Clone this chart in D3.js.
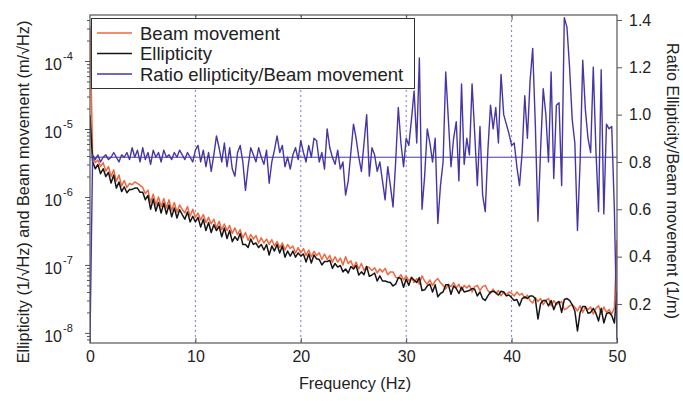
<!DOCTYPE html>
<html>
<head>
<meta charset="utf-8">
<script src="https://cdn.jsdelivr.net/npm/d3@7"></script>
<style>
body { margin: 0; background: #fff; }
text { font-family: "Liberation Sans", Arial, Helvetica, sans-serif; fill: #222; }
</style>
</head>
<body>
<svg id="chart" width="683" height="401"></svg>
<script>
// spectra sampled every 0.25 Hz from 0 to 50 Hz
var freqStep = 0.25;

var beam = [3.2e-4,4.0e-6,3.2e-6,3.5e-6,2.8e-6,3.2e-6,2.4e-6,2.8e-6,2.0e-6,2.5e-6,
1.7e-6,2.1e-6,1.45e-6,1.74e-6,1.38e-6,1.58e-6,1.51e-6,1.66e-6,1.58e-6,1.48e-6,
1.38e-6,1.12e-6,1.26e-6,8.3e-7,1.1e-6,7.6e-7,1.0e-6,7.2e-7,9.5e-7,6.9e-7,
9.1e-7,6.3e-7,8.3e-7,6.0e-7,7.6e-7,6.6e-7,5.8e-7,7.2e-7,5.2e-7,6.6e-7,
5.0e-7,5.8e-7,4.6e-7,5.5e-7,4.2e-7,5.0e-7,4.0e-7,4.7e-7,3.5e-7,4.4e-7,
3.3e-7,4.0e-7,3.2e-7,3.8e-7,2.9e-7,3.5e-7,2.8e-7,3.3e-7,2.5e-7,3.0e-7,
2.3e-7,2.8e-7,2.4e-7,2.7e-7,2.1e-7,2.5e-7,2.1e-7,2.4e-7,2.0e-7,2.35e-7,
1.9e-7,2.2e-7,1.8e-7,2.1e-7,1.66e-7,2.0e-7,1.74e-7,1.9e-7,1.5e-7,1.8e-7,
1.5e-7,1.74e-7,1.38e-7,1.66e-7,1.32e-7,1.58e-7,1.38e-7,1.51e-7,1.2e-7,1.45e-7,
1.2e-7,1.38e-7,1.1e-7,1.32e-7,1.1e-7,1.26e-7,1.0e-7,1.32e-7,1.05e-7,1.15e-7,
9.1e-8,1.1e-7,8.7e-8,1.05e-7,8.3e-8,9.5e-8,9.1e-8,8.3e-8,9.1e-8,7.6e-8,
8.7e-8,7.9e-8,8.9e-8,7.2e-8,7.9e-8,7.9e-8,6.6e-8,6.3e-8,7.2e-8,6.0e-8,
6.9e-8,5.8e-8,6.6e-8,5.5e-8,6.3e-8,5.2e-8,6.9e-8,5.8e-8,5.2e-8,6.0e-8,
5.0e-8,5.8e-8,6.3e-8,5.5e-8,5.0e-8,4.4e-8,5.2e-8,4.8e-8,5.5e-8,4.6e-8,
5.2e-8,4.2e-8,5.0e-8,4.6e-8,5.0e-8,4.0e-8,4.8e-8,5.0e-8,4.2e-8,4.8e-8,
5.0e-8,4.2e-8,3.8e-8,4.4e-8,3.8e-8,4.2e-8,3.5e-8,4.0e-8,3.6e-8,4.0e-8,
3.8e-8,3.5e-8,4.0e-8,3.6e-8,3.8e-8,3.2e-8,3.6e-8,3.0e-8,2.75e-8,3.3e-8,
2.9e-8,3.2e-8,2.6e-8,3.0e-8,3.2e-8,2.5e-8,3.0e-8,2.6e-8,2.75e-8,2.9e-8,
2.2e-8,2.3e-8,2.5e-8,2.6e-8,2.4e-8,2.1e-8,2.5e-8,2.0e-8,2.4e-8,2.2e-8,
2.4e-8,1.9e-8,2.3e-8,2.5e-8,1.9e-8,2.4e-8,2.0e-8,2.2e-8,1.9e-8,2.3e-8,
2.35e-7];

var ellipticity = [1.6e-5,3.3e-6,2.6e-6,3.0e-6,2.2e-6,2.6e-6,2.0e-6,2.3e-6,1.6e-6,2.1e-6,
1.35e-6,1.66e-6,1.2e-6,1.41e-6,1.15e-6,1.29e-6,1.29e-6,1.35e-6,1.35e-6,1.17e-6,
1.17e-6,9.1e-7,1.05e-6,6.6e-7,9.3e-7,6.2e-7,8.3e-7,5.8e-7,8.1e-7,5.6e-7,
7.6e-7,5.1e-7,6.9e-7,4.9e-7,6.5e-7,5.5e-7,4.7e-7,6.0e-7,4.3e-7,5.2e-7,
4.3e-7,5.0e-7,3.6e-7,4.7e-7,3.2e-7,4.2e-7,3.0e-7,3.9e-7,3.2e-7,3.7e-7,
2.6e-7,3.5e-7,2.45e-7,3.2e-7,2.2e-7,2.6e-7,2.3e-7,2.9e-7,2.0e-7,2.0e-7,
1.8e-7,2.4e-7,2.0e-7,2.1e-7,1.8e-7,2.0e-7,1.66e-7,2.0e-7,1.4e-7,1.9e-7,
1.6e-7,2.0e-7,1.5e-7,1.9e-7,1.3e-7,1.6e-7,1.35e-7,1.6e-7,1.3e-7,1.5e-7,
1.35e-7,1.45e-7,1.1e-7,1.45e-7,1.07e-7,1.4e-7,1.23e-7,1.2e-7,1.0e-7,1.12e-7,
1.12e-7,1.17e-7,8.9e-8,1.05e-7,9.3e-8,9.8e-8,7.9e-8,8.7e-8,7.6e-8,9.5e-8,
8.7e-8,9.8e-8,7.1e-8,7.9e-8,7.2e-8,9.5e-8,6.8e-8,7.1e-8,7.6e-8,5.8e-8,
6.9e-8,5.8e-8,5.8e-8,5.6e-8,5.5e-8,4.9e-8,5.2e-8,6.5e-8,6.3e-8,4.7e-8,
6.2e-8,5.0e-8,6.5e-8,6.0e-8,5.5e-8,6.5e-8,4.2e-8,4.3e-8,4.9e-8,5.2e-8,
4.0e-8,5.1e-8,3.4e-8,3.8e-8,4.0e-8,5.1e-8,5.1e-8,3.7e-8,4.9e-8,4.5e-8,
3.8e-8,4.7e-8,4.0e-8,4.1e-8,4.2e-8,4.5e-8,4.4e-8,3.5e-8,4.0e-8,3.2e-8,
3.0e-8,3.5e-8,4.0e-8,4.1e-8,3.9e-8,3.6e-8,4.1e-8,4.0e-8,3.5e-8,3.6e-8,
3.3e-8,3.0e-8,3.1e-8,2.5e-8,3.2e-8,3.4e-8,3.2e-8,3.5e-8,3.5e-8,3.2e-8,
1.6e-8,2.7e-8,3.0e-8,3.0e-8,2.5e-8,3.0e-8,2.2e-8,2.75e-8,2.9e-8,2.0e-8,
3.1e-8,3.2e-8,3.0e-8,2.6e-8,2.1e-8,1.07e-8,2.0e-8,2.45e-8,2.45e-8,1.95e-8,
2.0e-8,2.3e-8,1.95e-8,1.5e-8,2.3e-8,1.4e-8,1.9e-8,2.0e-8,1.8e-8,1.4e-8,
4.0e-8];

var ratio = [0.05,0.83,0.81,0.83,0.80,0.82,0.83,0.81,0.82,0.84,
0.82,0.80,0.83,0.82,0.84,0.81,0.86,0.82,0.85,0.80,
0.86,0.81,0.84,0.79,0.85,0.82,0.84,0.80,0.85,0.82,
0.83,0.81,0.84,0.82,0.85,0.83,0.81,0.84,0.82,0.80,
0.85,0.87,0.80,0.85,0.78,0.84,0.76,0.83,0.91,0.86,
0.80,0.88,0.78,0.86,0.77,0.74,0.84,0.87,0.80,0.68,
0.78,0.86,0.83,0.80,0.86,0.82,0.79,0.85,0.71,0.80,
0.85,0.91,0.84,0.87,0.78,0.82,0.77,0.83,0.86,0.81,
0.89,0.84,0.80,0.87,0.82,0.90,0.89,0.80,0.84,0.77,
0.94,0.86,0.82,0.79,0.85,0.77,0.80,0.66,0.72,0.84,
0.96,0.90,0.82,0.76,0.88,1.00,0.74,0.86,0.83,0.76,
0.80,0.72,0.64,0.78,0.70,0.61,0.80,1.03,0.88,0.78,
0.90,0.87,0.98,1.10,0.88,1.24,0.60,0.74,0.94,0.88,
0.80,0.90,0.54,0.70,0.80,1.18,0.98,0.78,0.90,0.97,
0.72,1.13,0.79,0.90,0.83,1.13,0.92,0.70,0.95,0.66,
0.59,0.85,1.04,0.94,1.03,0.88,1.17,1.00,0.96,0.92,
0.87,0.88,0.78,0.70,0.84,1.08,0.90,1.14,1.28,0.96,
0.55,0.85,1.11,1.00,0.80,1.18,0.73,1.04,1.05,0.70,
1.41,1.37,1.20,0.98,0.88,0.51,0.80,1.23,1.02,0.90,
0.84,1.20,0.85,0.59,1.19,0.58,0.96,0.94,0.95,0.60,
0.05];

var ratioMean = 0.82;
var gridFreqs = [10, 20, 30, 40];
var xTicks = [0, 10, 20, 30, 40, 50];
var leftTicks = [1e-8, 1e-7, 1e-6, 1e-5, 1e-4];
var rightTicks = [0.2, 0.4, 0.6, 0.8, 1.0, 1.2, 1.4];
var legendNames = ["Beam movement", "Ellipticity", "Ratio ellipticity/Beam movement"];

var beamColor = "#ee6840";
var ellipColor = "#151515";
var ratioColor = "#4536a6";

var svg = d3.select("#chart");
var plot = {left: 90, right: 617, top: 15, bottom: 343};

var x = d3.scaleLinear().domain([0, 50]).range([plot.left, plot.right]);
var yL = d3.scaleLog().domain([7.1e-9, 4.75e-4]).range([plot.bottom, plot.top]);
var yR = d3.scaleLinear().domain([0.035, 1.421]).range([plot.bottom, plot.top]);

svg.append("defs").append("clipPath").attr("id", "clip")
    .append("rect")
    .attr("x", plot.left).attr("y", plot.top)
    .attr("width", plot.right - plot.left).attr("height", plot.bottom - plot.top);

// dotted verticals
svg.append("g").selectAll("line").data(gridFreqs).enter().append("line")
    .attr("x1", d => x(d)).attr("x2", d => x(d))
    .attr("y1", plot.top).attr("y2", plot.bottom)
    .attr("stroke", "#7a7ad2").attr("stroke-width", 1)
    .attr("stroke-dasharray", "2,3");

var lines = svg.append("g").attr("clip-path", "url(#clip)");

var logLine = d3.line().x((d, i) => x(i * freqStep)).y(d => yL(d));
var ratioLine = d3.line().x((d, i) => x(i * freqStep)).y(d => yR(d));

lines.append("line")
    .attr("x1", plot.left).attr("x2", plot.right)
    .attr("y1", yR(ratioMean)).attr("y2", yR(ratioMean))
    .attr("stroke", ratioColor).attr("stroke-width", 1);

lines.append("path").datum(beam)
    .attr("d", logLine).attr("fill", "none")
    .attr("stroke", beamColor).attr("stroke-width", 1.5).attr("stroke-linejoin", "round");
lines.append("path").datum(ellipticity)
    .attr("d", logLine).attr("fill", "none")
    .attr("stroke", ellipColor).attr("stroke-width", 1.5).attr("stroke-linejoin", "round");
lines.append("path").datum(ratio)
    .attr("d", ratioLine).attr("fill", "none")
    .attr("stroke", ratioColor).attr("stroke-width", 1.4).attr("stroke-linejoin", "round");

// axes
function styleAxis(g) {
    g.select(".domain").remove();
    g.selectAll("line").attr("stroke", "#555");
    g.attr("font-family", null).attr("font-size", 16);
    g.selectAll("text").attr("fill", "#222");
}

svg.append("g").attr("transform", "translate(0," + plot.bottom + ")")
    .call(d3.axisBottom(x).tickValues(xTicks).tickSize(-5).tickPadding(8).tickFormat(d3.format("d")))
    .call(styleAxis);

svg.append("g").attr("transform", "translate(0," + plot.top + ")")
    .call(d3.axisTop(x).tickValues(gridFreqs).tickSize(-5).tickFormat(""))
    .call(styleAxis);

svg.append("g").attr("transform", "translate(" + plot.right + ",0)")
    .call(d3.axisRight(yR).tickValues(rightTicks).tickSize(5).tickPadding(7).tickFormat(d3.format(".1f")))
    .call(styleAxis);

var minorTicks = [];
leftTicks.concat([1e-9]).forEach(function (dec) {
    for (var k = 2; k <= 9; k++) {
        var v = dec * k;
        if (v >= yL.domain()[0] && v <= yL.domain()[1]) minorTicks.push(v);
    }
});

svg.append("g").attr("transform", "translate(" + plot.left + ",0)")
    .call(d3.axisLeft(yL).tickValues(leftTicks).tickSize(5).tickFormat(""))
    .call(styleAxis);
svg.append("g").attr("transform", "translate(" + plot.left + ",0)")
    .call(d3.axisLeft(yL).tickValues(minorTicks).tickSize(3).tickFormat(""))
    .call(styleAxis);

var leftLabels = svg.append("g").attr("font-size", 16);
leftTicks.forEach(function (v) {
    var yy = yL(v);
    leftLabels.append("text").attr("x", 62).attr("y", yy + 9)
        .attr("text-anchor", "end").text("10");
    leftLabels.append("text").attr("x", 63).attr("y", yy - 1)
        .attr("font-size", 11).text("-" + Math.round(-Math.log10(v)));
});

// frame
svg.append("rect")
    .attr("x", plot.left).attr("y", plot.top)
    .attr("width", plot.right - plot.left).attr("height", plot.bottom - plot.top)
    .attr("fill", "none").attr("stroke", "#555").attr("stroke-width", 1.2);

// titles
svg.append("text").attr("x", 355).attr("y", 389).attr("text-anchor", "middle")
    .attr("font-size", 16.3).text("Frequency (Hz)");
svg.append("text").attr("transform", "translate(29,192) rotate(-90)").attr("text-anchor", "middle")
    .attr("font-size", 16.3).text("Ellipticity (1/\u221AHz) and Beam movement (m/\u221AHz)");
svg.append("text").attr("transform", "translate(667,181) rotate(90)").attr("text-anchor", "middle")
    .attr("font-size", 16.3).text("Ratio Ellipticity/Beam movement (1/m)");

// legend
var legend = svg.append("g");
legend.append("rect").attr("x", 91.5).attr("y", 18.5).attr("width", 323).attr("height", 70)
    .attr("fill", "#fff").attr("stroke", "#333").attr("stroke-width", 1);
var legendColors = [beamColor, ellipColor, ratioColor];
legendNames.forEach(function (name, i) {
    var cy = 33 + i * 20.5;
    legend.append("line").attr("x1", 97).attr("x2", 132).attr("y1", cy).attr("y2", cy)
        .attr("stroke", legendColors[i]).attr("stroke-width", 1.3);
    legend.append("text").attr("x", 140).attr("y", cy + 6.5)
        .attr("font-size", 18.5).text(name);
});
</script>
</body>
</html>
